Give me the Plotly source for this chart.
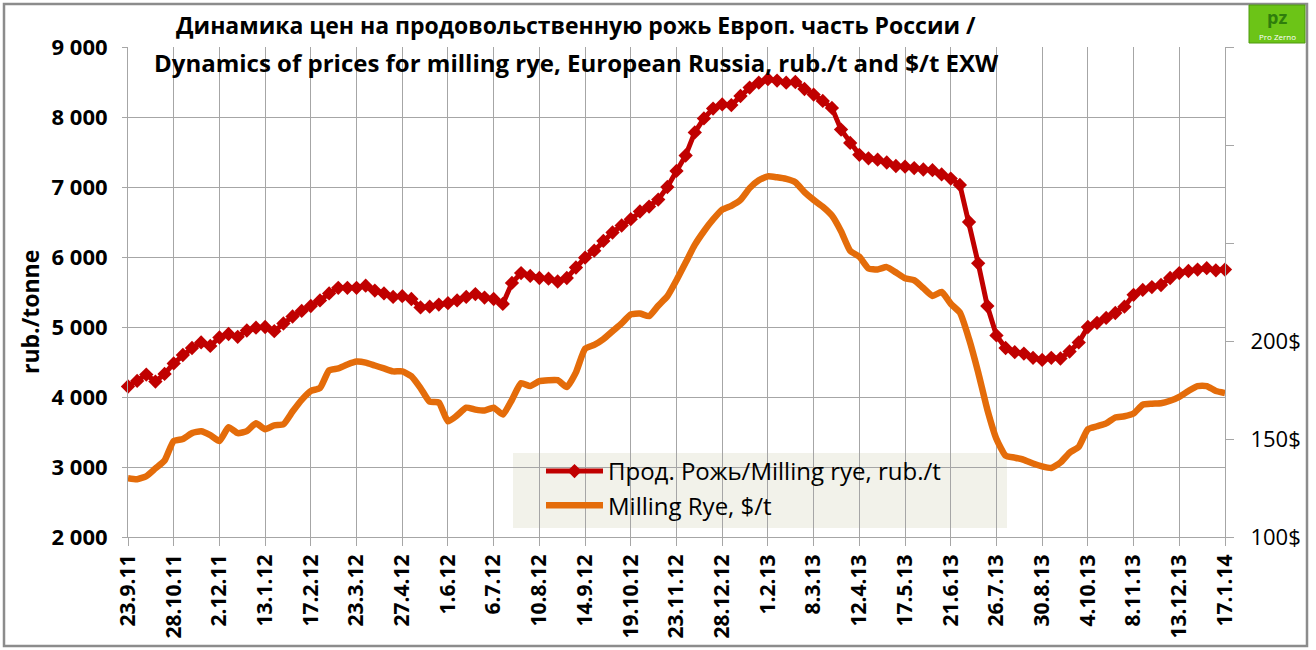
import pandas as pd
import plotly.graph_objects as go

# ---------------- data ----------------
START_DATE = "2011-09-23"
END_DATE = "2014-01-17"
SKIPPED_WEEKS = ["2012-01-06"]  # holiday week without quotes

RYE_RUB = [
    4150, 4230, 4320, 4220, 4330, 4480, 4600, 4700, 4780, 4730,
    4850, 4900, 4860, 4950, 4990, 5000, 4940, 5050, 5150, 5230,
    5300, 5380, 5480, 5560, 5560, 5560, 5590, 5520, 5480, 5430,
    5440, 5400, 5280, 5290, 5320, 5340, 5380, 5430, 5470, 5420,
    5400, 5330, 5630, 5770, 5730, 5700, 5690, 5650, 5700, 5850,
    5990, 6090, 6230, 6350, 6450, 6540, 6650, 6720, 6820, 7000,
    7230, 7450, 7780, 7980, 8120, 8180, 8170, 8300, 8420, 8490,
    8540, 8520, 8490, 8500, 8400, 8320, 8230, 8130, 7820, 7630,
    7460, 7410, 7390, 7350, 7300, 7290, 7270, 7250, 7240, 7180,
    7120, 7030, 6500, 5910, 5300, 4880, 4700, 4640, 4620, 4560,
    4530, 4560, 4550, 4650, 4780, 5000, 5060, 5130, 5200, 5290,
    5460, 5530, 5570, 5600, 5700, 5770, 5800, 5820, 5840, 5810,
    5820,
]

RYE_USD = [
    130, 129.5, 131, 135, 139, 149, 150, 153, 154, 152,
    149, 156, 153, 154, 158, 155, 157, 157.5, 164, 170,
    174.5, 176, 185, 186, 188, 189.5, 189, 187.5, 186, 184.5,
    184.5, 182, 176, 169, 168.6, 159, 162, 166, 165, 164.5,
    166, 162.5, 170, 178.5, 177, 179.5, 180, 180, 176.5, 184,
    196, 198, 201, 205, 209, 213.6, 214, 212.7, 218, 222.8,
    231, 240, 249, 256, 262, 267, 269, 272, 278, 282,
    284, 283.5, 282.7, 281, 276, 272, 268.5, 264, 256, 246,
    243, 237, 236.5, 237.7, 235, 232, 231, 227, 223, 225,
    219, 214.5, 201, 184, 165, 150, 141.5, 140.5, 139.4, 137.5,
    136, 135.2, 138, 143, 146, 155, 156.5, 158, 161, 161.6,
    163, 167.5, 168, 168.2, 169.5, 171.5, 174.5, 177, 177, 174.5,
    173.5,
]

NAME_RUB = "Прод. Рожь/Milling rye, rub./t"
NAME_USD = "Milling Rye, $/t"
TITLE_1 = "Динамика цен на продовольственную рожь Европ. часть России /"
TITLE_2 = "Dynamics of prices for milling rye, European Russia, rub./t and $/t EXW"
Y_TITLE = "rub./tonne"
Y2_TICKS = [100, 150, 200, 250, 300, 350]
Y2_TEXT = ["100$", "150$", "200$", "", "", ""]

weeks = [d for d in pd.date_range(START_DATE, END_DATE, freq="7D")
         if d.strftime("%Y-%m-%d") not in SKIPPED_WEEKS]
CATS = [f"{d.day}.{d.month}.{d.year % 100:02d}" for d in weeks]

# ---------------- geometry helpers ----------------
W, H = 1316, 650
L, R, T, B = 128, 1225, 47, 537


def px(x):
    return (x - L) / (R - L)


def py(y):
    return (B - y) / (B - T)


FONT = "Open Sans"
RED = "#C00000"
ORANGE = "#E46C0A"
GRID = "#A6A6A6"

fig = go.Figure()
fig.add_trace(go.Scatter(
    x=CATS, y=RYE_RUB, name=NAME_RUB, mode="lines+markers",
    line=dict(color=RED, width=5),
    marker=dict(symbol="diamond", size=11, color=RED),
    legendgroup="a", cliponaxis=False,
))
fig.add_trace(go.Scatter(
    x=CATS, y=RYE_USD, name=NAME_USD, mode="lines", yaxis="y2",
    line=dict(color=ORANGE, width=6.5, shape="spline", smoothing=0.5),
    legendgroup="b", cliponaxis=False,
))

shapes = [
    # legend background (below gridlines)
    dict(type="rect", xref="paper", yref="paper", layer="below",
         x0=px(513), x1=px(1007), y0=py(528), y1=py(453),
         fillcolor="#F2F2EA", line=dict(width=0)),
    # chart border
    dict(type="rect", xref="paper", yref="paper",
         x0=px(4), x1=px(1307), y0=py(646), y1=py(4),
         line=dict(color="#8C8C8C", width=2.5)),
    # logo
    dict(type="rect", xref="paper", yref="paper",
         x0=px(1249), x1=px(1305), y0=py(43), y1=py(5),
         fillcolor="#6CC417", line=dict(color="#4E9A10", width=1)),
]

annotations = [
    dict(text=f"<b>{TITLE_1}</b>", x=px(576), y=py(25), xref="paper", yref="paper",
         showarrow=False, font=dict(family=FONT, size=23, color="#000"),
         xanchor="center", yanchor="middle"),
    dict(text=f"<b>{TITLE_2}</b>", x=px(576), y=py(62), xref="paper", yref="paper",
         showarrow=False, font=dict(family=FONT, size=24, color="#000"),
         xanchor="center", yanchor="middle"),
    dict(text=f"<b>{Y_TITLE}</b>", x=px(30), y=py(312), xref="paper", yref="paper",
         showarrow=False, textangle=-90, font=dict(family=FONT, size=23, color="#000"),
         xanchor="center", yanchor="middle"),
    dict(text="<b>pz</b>", x=px(1277), y=py(17), xref="paper", yref="paper",
         showarrow=False, font=dict(family=FONT, size=18, color="#2F7D0C"),
         xanchor="center", yanchor="middle"),
    dict(text="Pro Zerno", x=px(1277), y=py(37), xref="paper", yref="paper",
         showarrow=False, font=dict(family=FONT, size=8, color="#FFFFFF"),
         xanchor="center", yanchor="middle"),
]

fig.update_layout(
    width=W, height=H,
    margin=dict(l=L, r=W - R, t=T, b=H - B),
    paper_bgcolor="white", plot_bgcolor="white",
    font=dict(family=FONT, color="#000"),
    showlegend=True,
    legend=dict(
        x=px(541), y=py(449), xanchor="left", yanchor="top",
        bgcolor="rgba(0,0,0,0)", font=dict(family=FONT, size=24, color="#000"),
        itemwidth=57, tracegroupgap=10, traceorder="normal",
    ),
    xaxis=dict(
        type="category", categoryorder="array", categoryarray=CATS,
        range=[0, len(CATS) - 1],
        tickmode="array", tickvals=CATS[::5], ticktext=CATS[::5],
        tickangle=-90, tickfont=dict(family=FONT, size=21, weight="bold"),
        ticks="outside", ticklen=8, tickcolor=GRID,
        showgrid=True, gridcolor=GRID, gridwidth=1,
        showline=True, linecolor=GRID, linewidth=1,
        zeroline=False,
    ),
    yaxis=dict(
        range=[2000, 9000], dtick=1000, tick0=2000,
        tickformat=",d", separatethousands=True,
        tickfont=dict(family=FONT, size=22, weight="bold"),
        ticks="outside", ticklen=5, tickcolor=GRID, ticklabelstandoff=10,
        showgrid=True, gridcolor=GRID, gridwidth=1,
        showline=True, linecolor=GRID, linewidth=1, zeroline=False,
    ),
    yaxis2=dict(
        overlaying="y", side="right", range=[100, 350],
        tickmode="array", tickvals=Y2_TICKS, ticktext=Y2_TEXT,
        tickfont=dict(family=FONT, size=22),
        ticks="outside", ticklen=8, tickcolor=GRID, ticklabelstandoff=12,
        showgrid=False, showline=True, linecolor=GRID, linewidth=1, zeroline=False,
    ),
    separators=". ",
    shapes=shapes,
    annotations=annotations,
)

fig.write_html("out.html", config={"displayModeBar": False},
               post_script="document.body.style.margin='0px';")
